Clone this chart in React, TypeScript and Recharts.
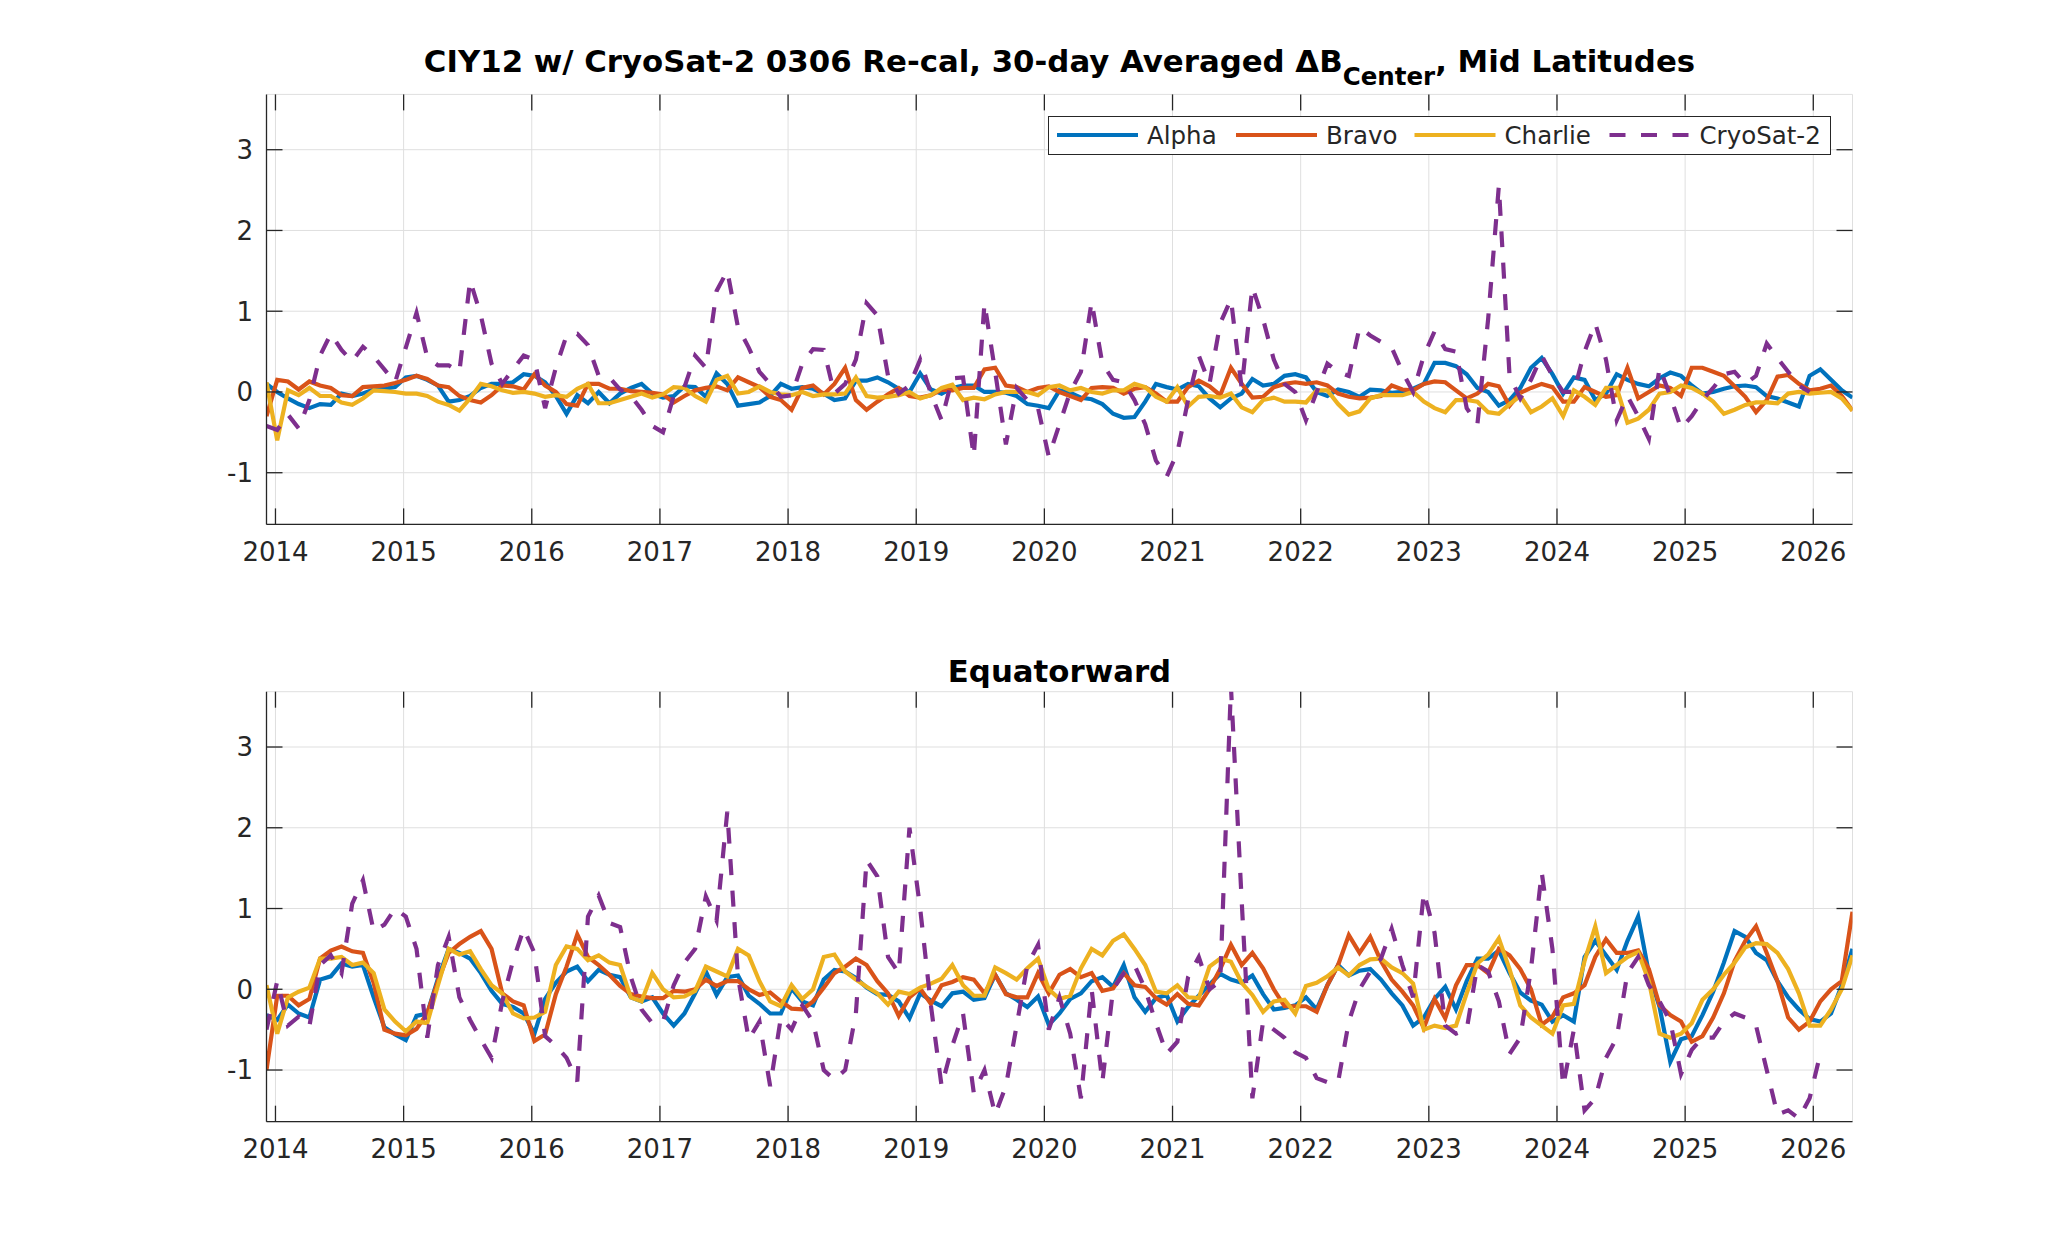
import React from "react";
import { CartesianGrid, Legend, Line, LineChart, XAxis, YAxis } from "recharts";

// 30-day averaged samples, first one at the left edge of the axes
const START = 2013.93;
const STEP = 0.08362;

const years = [2014, 2015, 2016, 2017, 2018, 2019, 2020, 2021, 2022, 2023, 2024, 2025, 2026];
const yTicks = [-1, 0, 1, 2, 3];
const xDomain = [2013.93, 2026.306];
const yDomain = [-1.64, 3.685];

const seriesNames = ["Alpha", "Bravo", "Charlie", "CryoSat-2"];
const seriesColors = ["#0072BD", "#D95319", "#EDB120", "#7E2F8E"];

// Mid Latitudes
const midAlpha = [
  0.1, 0.0, -0.08, -0.15, -0.2, -0.15, -0.16, -0.02, -0.05, -0.02, 0.03, 0.04,
  0.06, 0.18, 0.2, 0.15, 0.08, -0.12, -0.1, -0.05, 0.05, 0.1, 0.1, 0.12,
  0.22, 0.2, 0.12, -0.05, -0.27, -0.04, -0.14, 0.0, -0.14, -0.02, 0.05, 0.1,
  -0.02, -0.07, -0.05, 0.07, 0.06, -0.06, 0.23, 0.1, -0.17, -0.15, -0.13, -0.05,
  0.1, 0.04, 0.06, 0.04, -0.02, -0.1, -0.08, 0.14, 0.14, 0.18, 0.12, 0.04,
  0.0, 0.23, 0.03, -0.02, 0.05, 0.08, 0.08, 0.0, 0.0, -0.01, -0.05, -0.15,
  -0.17, -0.2, 0.02, -0.01, -0.07, -0.09, -0.15, -0.27, -0.32, -0.31, -0.12, 0.1,
  0.06, 0.03, 0.1, 0.07, -0.08, -0.19, -0.08, -0.02, 0.16, 0.08, 0.1, 0.2,
  0.22, 0.18, 0.0, -0.05, 0.03, 0.0, -0.06, 0.03, 0.02, -0.01, 0.0, 0.04,
  0.1, 0.36, 0.36, 0.32, 0.22, 0.05, 0.0, -0.17, -0.1, 0.05, 0.3, 0.42,
  0.22, -0.02, 0.18, 0.15, -0.1, -0.02, 0.22, 0.15, 0.1, 0.07, 0.17, 0.24,
  0.2, 0.08, -0.02, 0.0, 0.04, 0.07, 0.08, 0.06, -0.05, -0.08, -0.13, -0.18,
  0.2, 0.28, 0.15, 0.02, -0.07,
];
const midBravo = [
  -0.3, 0.15, 0.13, 0.03, 0.13, 0.08, 0.05, -0.04, -0.05, 0.06, 0.07, 0.08,
  0.11, 0.15, 0.2, 0.16, 0.08, 0.06, -0.05, -0.1, -0.13, -0.04, 0.08, 0.07,
  0.03, 0.22, 0.08, 0.0, -0.15, -0.17, 0.1, 0.1, 0.04, 0.04, 0.01, 0.0,
  -0.01, -0.03, -0.13, -0.05, 0.02, 0.05, 0.07, 0.02, 0.18, 0.12, 0.06, -0.06,
  -0.1, -0.22, 0.05, 0.08, -0.03, 0.1, 0.3, -0.1, -0.22, -0.12, -0.03, 0.05,
  -0.05, -0.07, -0.04, 0.03, 0.02, 0.05, 0.05, 0.28, 0.3, 0.08, 0.06, 0.0,
  0.05, 0.07, 0.0, -0.05, -0.1, 0.05, 0.06, 0.05, -0.02, 0.04, 0.06, -0.02,
  -0.12, -0.12, 0.06, 0.14, 0.07, -0.04, 0.3, 0.1, -0.07, -0.06, 0.06, 0.1,
  0.12, 0.1, 0.12, 0.08, -0.02, -0.06, -0.08, -0.07, -0.05, 0.08, 0.03, 0.02,
  0.1, 0.13, 0.12, 0.02, -0.08, -0.02, 0.1, 0.07, -0.17, -0.01, 0.05, 0.1,
  0.06, -0.12, -0.12, 0.06, 0.0, -0.06, -0.04, 0.3, -0.08, 0.0, 0.08, 0.05,
  -0.05, 0.3, 0.3, 0.25, 0.2, 0.07, -0.06, -0.25, -0.1, 0.19, 0.21, 0.1,
  0.02, 0.04, 0.08, -0.05, -0.23,
];
const midCharlie = [
  0.12, -0.6, 0.02, -0.04, 0.05, -0.05, -0.05, -0.13, -0.16, -0.08, 0.02, 0.01,
  0.0, -0.02, -0.02, -0.05, -0.12, -0.16, -0.23, -0.08, 0.1, 0.07, 0.02, -0.01,
  0.0, -0.02, -0.06, -0.04, -0.06, 0.04, 0.1, -0.14, -0.14, -0.1, -0.06, -0.02,
  -0.07, -0.03, 0.06, 0.05, -0.05, -0.12, 0.15, 0.2, -0.02, 0.0, 0.07, 0.0,
  -0.03, -0.04, 0.0, -0.05, -0.03, -0.03, -0.02, 0.18, -0.05, -0.07, -0.06, -0.04,
  0.0, -0.08, -0.04, 0.05, 0.09, -0.1, -0.07, -0.09, -0.03, 0.0, 0.0, 0.0,
  -0.04, 0.06, 0.08, 0.02, 0.05, 0.0, -0.02, 0.02, 0.02, 0.1, 0.06, -0.06,
  -0.12, 0.06, -0.18, -0.06, -0.05, -0.07, -0.02, -0.19, -0.25, -0.1, -0.07, -0.12,
  -0.12, -0.13, 0.02, 0.02, -0.15, -0.28, -0.24, -0.08, -0.04, -0.04, -0.04, 0.0,
  -0.12, -0.2, -0.25, -0.1, -0.1, -0.12, -0.25, -0.27, -0.15, -0.05, -0.25, -0.18,
  -0.08, -0.3, 0.02, -0.06, -0.16, 0.05, 0.05, -0.38, -0.33, -0.22, -0.02, 0.0,
  0.08, 0.05, -0.02, -0.12, -0.27, -0.22, -0.16, -0.13, -0.13, -0.14, -0.02, 0.0,
  -0.02, -0.01, 0.0, -0.08, -0.23,
];
const midCryo = [
  -0.42, -0.47, -0.28, -0.45, -0.1, 0.45, 0.72, 0.52, 0.38, 0.56, 0.44, 0.28,
  0.12, 0.55, 0.98, 0.43, 0.33, 0.33, 0.25, 1.38, 0.95, 0.35, 0.1, 0.28,
  0.45, 0.4, -0.2, 0.3, 0.7, 0.72, 0.58, 0.2, 0.18, 0.03, -0.05, -0.22,
  -0.42, -0.5, -0.05, 0.06, 0.45, 0.3, 1.25, 1.5, 0.8, 0.55, 0.25, 0.1,
  -0.06, -0.04, 0.35, 0.53, 0.52, -0.02, 0.1, 0.4, 1.1, 0.95, 0.2, -0.02,
  0.08, 0.4, -0.02, -0.35, 0.17, 0.18, -0.8, 1.1, 0.25, -0.65, 0.05, -0.1,
  -0.2, -0.8, -0.4, 0.0, 0.25, 1.12, 0.35, 0.15, 0.12, -0.1, -0.4, -0.85,
  -1.05, -0.75, -0.1, 0.45, 0.1, 0.85, 1.15, 0.05, 1.3, 0.9, 0.4, 0.1,
  0.0, -0.35, 0.0, 0.35, 0.25, 0.2, 0.8, 0.7, 0.62, 0.55, 0.25, 0.0,
  0.45, 0.75, 0.53, 0.5, -0.2, -0.4, 0.9, 2.55, 0.2, -0.08, 0.15, 0.45,
  0.2, 0.0, 0.0, 0.5, 0.85, 0.4, -0.35, -0.05, -0.3, -0.58, 0.3, -0.05,
  -0.45, -0.3, -0.1, 0.05, 0.22, 0.25, 0.1, 0.2, 0.6, 0.42, 0.25, 0.08,
  0.0, null, null, null, null,
];

// Equatorward
const eqAlpha = [
  -0.32, -0.38, -0.19, -0.3, -0.35, 0.12, 0.16, 0.32, 0.28, 0.3, -0.1, -0.47,
  -0.56, -0.63, -0.33, -0.3, 0.13, 0.5, 0.45, 0.38, 0.2, -0.02, -0.18, -0.22,
  -0.3, -0.55, -0.12, 0.08, 0.22, 0.28, 0.1, 0.24, 0.18, 0.15, -0.1, -0.15,
  -0.1, -0.3, -0.45, -0.3, -0.05, 0.22, -0.07, 0.15, 0.17, -0.08, -0.18, -0.3,
  -0.3, 0.01, -0.15, -0.2, 0.12, 0.24, 0.22, 0.14, 0.02, -0.06, -0.07, -0.15,
  -0.36, -0.05, -0.14, -0.21, -0.05, -0.03, -0.13, -0.11, 0.18, -0.05, -0.13, -0.22,
  -0.09, -0.44, -0.3, -0.12, -0.05, 0.1, 0.15, 0.03, 0.3, -0.1, -0.28, -0.11,
  -0.07, -0.4, -0.22, -0.08, 0.06, 0.19, 0.12, 0.08, 0.17, -0.06, -0.25, -0.23,
  -0.2, -0.1, -0.25, 0.05, 0.3, 0.17, 0.23, 0.25, 0.12, -0.05, -0.2, -0.45,
  -0.35, -0.12, 0.03, -0.25, 0.1, 0.38, 0.38, 0.48, 0.2, -0.04, -0.14, -0.19,
  -0.4, -0.32, -0.4, 0.4, 0.6, 0.42, 0.24, 0.6, 0.9, 0.2, -0.22, -0.9,
  -0.62, -0.58, -0.32, -0.03, 0.33, 0.72, 0.65, 0.45, 0.36, 0.1, -0.1, -0.25,
  -0.37, -0.4, -0.3, 0.05, 0.5,
];
const eqBravo = [
  -1.0, -0.08, -0.08, -0.2, -0.12, 0.38, 0.48, 0.53, 0.47, 0.45, 0.08, -0.5,
  -0.55, -0.57, -0.49, -0.3, 0.1, 0.45, 0.56, 0.65, 0.72, 0.5, -0.05, -0.15,
  -0.2, -0.64, -0.56, -0.06, 0.28, 0.68, 0.4, 0.3, 0.18, 0.04, -0.06, -0.09,
  -0.11, -0.11, -0.02, -0.03, 0.0, 0.12, 0.04, 0.1, 0.1, 0.0, -0.07, -0.04,
  -0.15, -0.24, -0.25, -0.15, 0.02, 0.2, 0.28, 0.38, 0.3, 0.1, -0.05, -0.33,
  -0.1, 0.01, -0.18, 0.05, 0.09, 0.15, 0.12, -0.05, 0.18, -0.06, -0.1, -0.1,
  0.2, -0.05, 0.18, 0.25, 0.15, 0.2, -0.02, 0.01, 0.2, 0.05, 0.03, -0.11,
  -0.19, -0.06, -0.18, -0.2, 0.0, 0.25, 0.55, 0.3, 0.45, 0.26, 0.0, -0.21,
  -0.21, -0.21, -0.28, 0.05, 0.3, 0.67, 0.45, 0.65, 0.35, 0.12, -0.03, -0.2,
  -0.48, -0.12, -0.36, 0.05, 0.3, 0.3, 0.2, 0.5, 0.42, 0.25, 0.0, -0.44,
  -0.34, -0.1, -0.05, 0.05, 0.4, 0.62, 0.45, 0.45, 0.48, 0.25, -0.2, -0.32,
  -0.4, -0.65, -0.58, -0.35, -0.05, 0.35, 0.6, 0.78, 0.45, 0.1, -0.35, -0.5,
  -0.4, -0.15, 0.0, 0.1, 0.96,
];
const eqCharlie = [
  0.05, -0.55, -0.1, -0.03, 0.02, 0.38, 0.38, 0.4, 0.3, 0.33, 0.2, -0.25,
  -0.4, -0.52, -0.4, -0.42, 0.05, 0.5, 0.43, 0.47, 0.25, 0.05, -0.05, -0.3,
  -0.36, -0.35, -0.28, 0.3, 0.53, 0.5, 0.36, 0.42, 0.33, 0.3, -0.1, -0.15,
  0.2, 0.0, -0.1, -0.09, -0.02, 0.28, 0.22, 0.16, 0.5, 0.42, 0.1, -0.15,
  -0.21, 0.05, -0.12, 0.0, 0.4, 0.43, 0.22, 0.12, 0.03, -0.05, -0.19, -0.03,
  -0.06, 0.02, 0.07, 0.13, 0.3, 0.05, -0.08, -0.08, 0.27, 0.2, 0.12, 0.26,
  0.38, 0.0, -0.12, -0.08, 0.26, 0.5, 0.42, 0.6, 0.68, 0.5, 0.3, -0.03,
  -0.05, 0.05, -0.1, -0.11, 0.28, 0.38, 0.34, 0.08, -0.07, -0.28, -0.15, -0.13,
  -0.3, 0.04, 0.08, 0.16, 0.27, 0.17, 0.3, 0.37, 0.38, 0.27, 0.2, 0.07,
  -0.5, -0.45, -0.48, -0.45, -0.05, 0.32, 0.43, 0.63, 0.25, -0.2, -0.35, -0.45,
  -0.55, -0.2, -0.18, 0.35, 0.78, 0.2, 0.3, 0.4, 0.46, 0.1, -0.55, -0.6,
  -0.55, -0.42, -0.13, 0.0, 0.18, 0.33, 0.52, 0.57, 0.56, 0.45, 0.25, -0.05,
  -0.45, -0.45, -0.25, 0.0, 0.42,
];
const eqCryo = [
  -0.5, 0.1, -0.45, -0.34, -0.46, 0.3, 0.42, 0.2, 1.06, 1.35, 0.72, 0.8,
  1.0, 0.9, 0.5, -0.6, 0.3, 0.65, -0.1, -0.38, -0.62, -0.85, -0.15, 0.35,
  0.75, 0.45, -0.58, -0.7, -0.85, -1.14, 0.9, 1.16, 0.82, 0.77, 0.15, -0.25,
  -0.42, -0.4, 0.05, 0.33, 0.5, 1.15, 0.85, 2.2, 0.15, -0.62, -0.4, -1.2,
  -0.35, -0.5, -0.2, -0.4, -1.0, -1.12, -1.0, -0.3, 1.6, 1.4, 0.4, 0.2,
  2.0, 1.0, -0.2, -1.2, -0.7, -0.3, -1.28, -1.0, -1.55, -1.2, -0.45, 0.3,
  0.55, -0.5, -0.1, -0.55, -1.35, 0.0, -1.15, 0.0, 0.2, 0.3, 0.0, -0.42,
  -0.8, -0.65, 0.15, 0.4, 0.0, 0.1, 3.75, 1.1, -1.35, -0.4, -0.5, -0.6,
  -0.78, -0.85, -1.1, -1.15, -1.15, -0.4, 0.0, 0.22, 0.38, 0.75, 0.3, -0.1,
  1.2, 0.7, -0.45, -0.55, -0.5, 0.3, 0.22, -0.15, -0.8, -0.6, 0.25, 1.45,
  0.5, -1.2, -0.5, -1.5, -1.35, -0.85, -0.6, 0.2, 0.4, 0.05, -0.15, -0.4,
  -1.05, -0.75, -0.6, -0.6, -0.4, -0.3, -0.35, -0.45, -1.0, -1.55, -1.5, -1.6,
  -1.35, -0.8, null, null, null,
];

const W = 2047;
const PANEL_H = 630;
const PLOT_L = 266.5;
const PLOT_R = 1852.5;
const AXIS = "#262626";
const GRID = "#dfdfdf";
const FONT = "'DejaVu Sans', sans-serif";
const TICK_LEN = 16;
const X_AXIS_H = 30;
const Y_AXIS_W = 60;
const LINE_W = 4.2;
const DASH = "16 15.5";

function buildRows(a: number[], b: number[], c: number[], d: (number | null)[]) {
  return a.map((v, i) => ({
    t: START + i * STEP,
    alpha: v,
    bravo: b[i],
    charlie: c[i],
    cryo: d[i],
  }));
}

const midRows = buildRows(midAlpha, midBravo, midCharlie, midCryo);
const eqRows = buildRows(eqAlpha, eqBravo, eqCharlie, eqCryo);

const legendOffsets = [9, 188, 366.5, 561.5];

function MatlabLegend({ payload }: any) {
  const items = payload || [];
  return (
    <svg width={783} height={39} style={{ display: "block" }}>
      <rect x={0.5} y={0.5} width={782} height={38} fill="#fff" stroke={AXIS} strokeWidth={1} />
      {items.map((p: any, k: number) => (
        <g key={p.value}>
          <line
            x1={legendOffsets[k]}
            x2={legendOffsets[k] + 81}
            y1={19}
            y2={19}
            stroke={p.color}
            strokeWidth={LINE_W}
            strokeDasharray={p.payload?.strokeDasharray}
          />
          <text
            x={legendOffsets[k] + 90}
            y={19}
            dy="0.36em"
            fontSize={24.5}
            fontFamily={FONT}
            fill={AXIS}
          >
            {p.value}
          </text>
        </g>
      ))}
    </svg>
  );
}

function Panel({ rows, plotTop, plotBottom, legend }: any) {
  const xTick = (p: any) => (
    <g>
      <line x1={p.x} x2={p.x} y1={plotBottom} y2={plotBottom - TICK_LEN} stroke={AXIS} strokeWidth={1.3} />
      <line x1={p.x} x2={p.x} y1={plotTop} y2={plotTop + TICK_LEN} stroke={AXIS} strokeWidth={1.3} />
      <text x={p.x} y={plotBottom + 27} dy="0.36em" textAnchor="middle" fontSize={26} fontFamily={FONT} fill={AXIS}>
        {p.payload.value}
      </text>
    </g>
  );
  const yTick = (p: any) => (
    <g>
      <line x1={PLOT_L} x2={PLOT_L + TICK_LEN} y1={p.y} y2={p.y} stroke={AXIS} strokeWidth={1.3} />
      <line x1={PLOT_R} x2={PLOT_R - TICK_LEN} y1={p.y} y2={p.y} stroke={AXIS} strokeWidth={1.3} />
      <text x={PLOT_L - 13.5} y={p.y} dy="0.36em" textAnchor="end" fontSize={26} fontFamily={FONT} fill={AXIS}>
        {p.payload.value}
      </text>
    </g>
  );
  const axisLine = { stroke: AXIS, strokeWidth: 1.3 };

  return (
    <LineChart
      width={W}
      height={PANEL_H}
      data={rows}
      margin={{
        top: plotTop,
        right: W - PLOT_R,
        bottom: PANEL_H - plotBottom - X_AXIS_H,
        left: PLOT_L - Y_AXIS_W,
      }}
    >
      <CartesianGrid stroke={GRID} strokeWidth={1} />
      <XAxis
        dataKey="t"
        type="number"
        domain={xDomain}
        allowDataOverflow
        ticks={years}
        interval={0}
        height={X_AXIS_H}
        tickLine={false}
        axisLine={axisLine}
        tick={xTick}
      />
      <XAxis
        xAxisId="top"
        orientation="top"
        type="number"
        domain={xDomain}
        allowDataOverflow
        height={0}
        tick={false}
        tickLine={false}
        axisLine={axisLine}
      />
      <YAxis
        type="number"
        domain={yDomain}
        allowDataOverflow
        ticks={yTicks}
        interval={0}
        width={Y_AXIS_W}
        tickLine={false}
        axisLine={axisLine}
        tick={yTick}
      />
      <YAxis
        yAxisId="right"
        orientation="right"
        type="number"
        domain={yDomain}
        allowDataOverflow
        width={0}
        tick={false}
        tickLine={false}
        axisLine={axisLine}
      />
      <Line dataKey="alpha" name={seriesNames[0]} stroke={seriesColors[0]} strokeWidth={LINE_W} dot={false} isAnimationActive={false} />
      <Line dataKey="bravo" name={seriesNames[1]} stroke={seriesColors[1]} strokeWidth={LINE_W} dot={false} isAnimationActive={false} />
      <Line dataKey="charlie" name={seriesNames[2]} stroke={seriesColors[2]} strokeWidth={LINE_W} dot={false} isAnimationActive={false} />
      <Line
        dataKey="cryo"
        name={seriesNames[3]}
        stroke={seriesColors[3]}
        strokeWidth={LINE_W}
        strokeDasharray={DASH}
        dot={false}
        isAnimationActive={false}
      />
      {legend && (
        <Legend
          layout="vertical"
          align="center"
          verticalAlign="middle"
          wrapperStyle={{ left: 1048, top: 116, width: 783, height: 39 }}
          content={(props: any) => <MatlabLegend payload={props.payload} />}
        />
      )}
    </LineChart>
  );
}

export default function App() {
  const titleX = (PLOT_L + PLOT_R) / 2;
  return (
    <div style={{ position: "absolute", left: 0, top: 0, width: W, height: 1260, background: "#fff" }}>
      <div style={{ position: "absolute", left: 0, top: 0 }}>
        <Panel rows={midRows} plotTop={94.4} plotBottom={524.4} legend />
      </div>
      <div style={{ position: "absolute", left: 0, top: PANEL_H }}>
        <Panel rows={eqRows} plotTop={61.7} plotBottom={491.7} />
      </div>
      <svg width={W} height={1260} style={{ position: "absolute", left: 0, top: 0, pointerEvents: "none" }}>
        <text x={titleX} y={71.5} textAnchor="middle" fontSize={30.8} fontWeight="bold" fontFamily={FONT} fill="#000">
          CIY12 w/ CryoSat-2 0306 Re-cal, 30-day Averaged ΔB
          <tspan dy={13} fontSize={24.5}>Center</tspan>
          <tspan dy={-13}>, Mid Latitudes</tspan>
        </text>
        <text x={titleX} y={681.7} textAnchor="middle" fontSize={30.8} fontWeight="bold" fontFamily={FONT} fill="#000">
          Equatorward
        </text>
      </svg>
    </div>
  );
}
